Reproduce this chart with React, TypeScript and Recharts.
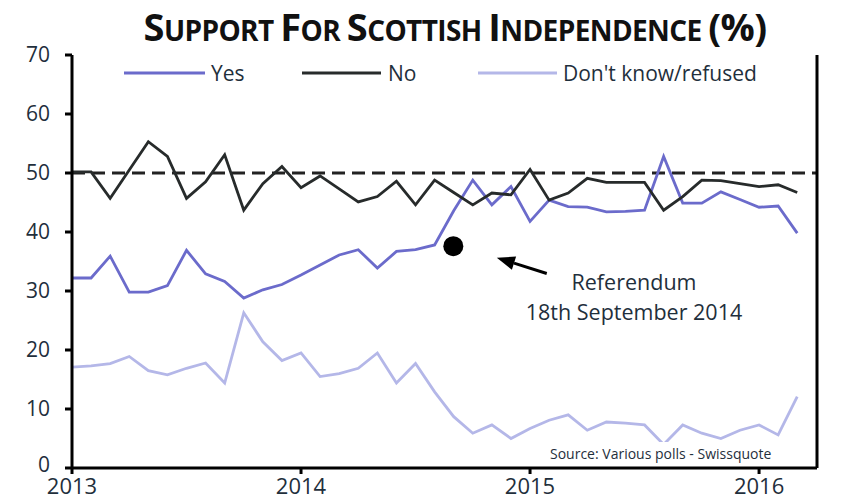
import React from "react";
import { LineChart, Line, XAxis, YAxis, ReferenceLine, ReferenceDot } from "recharts";

// Monthly polls, Jan 2013 .. Mar 2016
const startYear = 2013;
const yesValues = [
  32.2, 32.2, 35.9, 29.8, 29.8, 30.9, 36.9, 32.9, 31.6, 28.8, 30.2, 31.1,
  32.7, 34.4, 36.1, 37.0, 33.9, 36.7, 37.0, 37.8, 43.6, 48.8, 44.6, 47.7,
  41.8, 45.4, 44.3, 44.2, 43.4, 43.5, 43.7, 52.8, 44.9, 44.9, 46.8, 45.5,
  44.2, 44.4, 39.8,
];
const noValues = [
  50.2, 50.2, 45.7, 50.5, 55.3, 52.8, 45.7, 48.5, 53.1, 43.7, 48.2, 51.1,
  47.5, 49.5, 47.3, 45.1, 46.0, 48.6, 44.6, 48.8, 46.7, 44.6, 46.6, 46.3,
  50.6, 45.4, 46.6, 49.1, 48.4, 48.4, 48.4, 43.7, 46.0, 48.8, 48.7, 48.2,
  47.7, 48.0, 46.7,
];
const dkValues = [
  17.1, 17.3, 17.7, 18.9, 16.5, 15.8, 16.9, 17.8, 14.4, 26.3, 21.4, 18.2,
  19.5, 15.5, 16.0, 16.9, 19.5, 14.4, 17.7, 12.9, 8.7, 5.9, 7.3, 5.0,
  6.7, 8.1, 9.0, 6.4, 7.8, 7.6, 7.3, 4.0, 7.3, 5.9, 5.0, 6.4,
  7.3, 5.6, 12.1,
];
const xTicks = [2013, 2014, 2015, 2016];
const yTicks = [0, 10, 20, 30, 40, 50, 60, 70];
const referendum = { x: 2014.665, y: 37.6 };
const arrowFrom = { x: 2015.073, y: 32.97 };
const arrowTo = { x: 2014.855, y: 35.63 };

const data = yesValues.map((v, i) => ({
  t: startYear + i / 12,
  yes: v,
  no: noValues[i],
  dk: dkValues[i],
}));

const FONT = "'Open Sans', sans-serif";
const TXT = "#1f2f3c";
const YES = "#6b6bcb";
const NO = "#272b2b";
const DK = "#b4b7e8";

const Arrow = (props: any) => {
  const { x1, y1, x2, y2 } = props;
  if ([x1, y1, x2, y2].some((v) => v == null || isNaN(v))) return null;
  const dx = x2 - x1;
  const dy = y2 - y1;
  const len = Math.sqrt(dx * dx + dy * dy);
  const ux = dx / len;
  const uy = dy / len;
  const hl = 18;
  const hw = 7;
  const bx = x2 - ux * hl;
  const by = y2 - uy * hl;
  const px = -uy;
  const py = ux;
  return (
    <g>
      <line x1={x1} y1={y1} x2={bx} y2={by} stroke="#000" strokeWidth={3} />
      <polygon
        points={`${x2},${y2} ${bx + px * hw},${by + py * hw} ${bx - px * hw},${by - py * hw}`}
        fill="#000"
      />
    </g>
  );
};

const LeftTick = (props: any) => {
  const { x, y, payload } = props;
  const shift = payload.value === 0 ? -3 : 0;
  return (
    <text x={x} y={y + shift} dy="0.355em" textAnchor="end" fontFamily={FONT} fontSize={21} fill={TXT}>
      {payload.value}
    </text>
  );
};

export default function App() {
  const tickStyle = { fontFamily: FONT, fontSize: 21, fill: TXT };
  return (
    <div style={{ position: "absolute", left: 0, top: 0, width: 867, height: 500, background: "#fff" }}>
      <LineChart width={867} height={500} data={data} margin={{ top: 55, right: 0, left: 0, bottom: 0 }}>
        <XAxis
          dataKey="t"
          type="number"
          domain={[2013, 2016.253]}
          ticks={xTicks}
          allowDataOverflow
          height={32}
          tick={{ ...tickStyle, fontSize: 22 }}
          tickSize={6}
          tickMargin={4}
          axisLine={{ stroke: "#000", strokeWidth: 3 }}
          tickLine={{ stroke: "#000", strokeWidth: 3 }}
        />
        <YAxis
          yAxisId="left"
          domain={[0, 70]}
          ticks={yTicks}
          width={72}
          tick={<LeftTick />}
          tickSize={7}
          tickMargin={15}
          axisLine={{ stroke: "#000", strokeWidth: 3 }}
          tickLine={{ stroke: "#000", strokeWidth: 3 }}
        />
        <YAxis
          yAxisId="right"
          orientation="right"
          domain={[0, 70]}
          ticks={yTicks}
          width={50}
          tick={tickStyle}
          tickSize={6}
          tickMargin={16}
          axisLine={{ stroke: "#000", strokeWidth: 3 }}
          tickLine={{ stroke: "#000", strokeWidth: 3 }}
        />
        <ReferenceLine yAxisId="left" y={50} stroke="#222" strokeWidth={3} strokeDasharray="13 7" />
        <Line yAxisId="left" type="linear" dataKey="dk" stroke={DK} strokeWidth={2.8} dot={false} isAnimationActive={false} />
        <Line yAxisId="left" type="linear" dataKey="yes" stroke={YES} strokeWidth={2.8} dot={false} isAnimationActive={false} />
        <Line yAxisId="left" type="linear" dataKey="no" stroke={NO} strokeWidth={2.8} dot={false} isAnimationActive={false} />
        <ReferenceDot yAxisId="left" x={referendum.x} y={referendum.y} r={10} fill="#000" stroke="none" />
        <ReferenceLine
          yAxisId="left"
          segment={[arrowFrom, arrowTo]}
          stroke="#000"
          strokeWidth={3}
          shape={Arrow}
        />
      </LineChart>
      <svg
        width={867}
        height={500}
        style={{ position: "absolute", left: 0, top: 0, pointerEvents: "none" }}
      >
        <text
          x={455}
          y={41}
          textAnchor="middle"
          fontFamily={FONT}
          fontWeight={700}
          fill="#111"
          letterSpacing={-0.6}
        >
          <tspan fontSize={38}>S</tspan>
          <tspan fontSize={28}>UPPORT </tspan>
          <tspan fontSize={38}>F</tspan>
          <tspan fontSize={28}>OR </tspan>
          <tspan fontSize={38}>S</tspan>
          <tspan fontSize={28}>COTTISH </tspan>
          <tspan fontSize={38}>I</tspan>
          <tspan fontSize={28}>NDEPENDENCE </tspan>
          <tspan fontSize={38}>(%)</tspan>
        </text>
        <g fontFamily={FONT} fontSize={21} fill={TXT}>
          <line x1={124} y1={73} x2={205} y2={73} stroke={YES} strokeWidth={3} />
          <text x={211} y={80.5}>Yes</text>
          <line x1={302} y1={73} x2={381} y2={73} stroke={NO} strokeWidth={3} />
          <text x={388} y={80.5}>No</text>
          <line x1={478} y1={73} x2={557} y2={73} stroke={DK} strokeWidth={3} />
          <text x={563} y={80.5}>Don't know/refused</text>
        </g>
        <g fontFamily={FONT} fontSize={21.5} fill={TXT} textAnchor="middle">
          <text x={634} y={290}>Referendum</text>
          <text x={634} y={320}>18th September 2014</text>
        </g>
        <rect x={546} y={442} width={266} height={24} fill="#fff" />
        <text x={550} y={459} fontFamily={FONT} fontSize={14} fill={TXT}>
          Source: Various polls - Swissquote
        </text>
      </svg>
    </div>
  );
}
